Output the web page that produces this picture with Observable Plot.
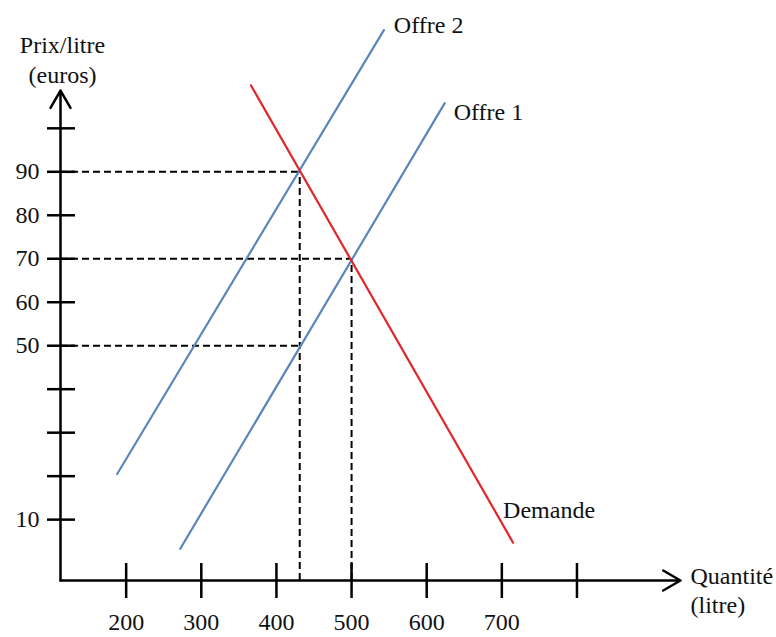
<!DOCTYPE html>
<html>
<head>
<meta charset="utf-8">
<script src="https://cdn.jsdelivr.net/npm/d3@7"></script>
<script src="https://cdn.jsdelivr.net/npm/@observablehq/plot@0.6"></script>
<style>
  html, body { margin: 0; padding: 0; background: white; }
  svg text { font-family: "Liberation Serif", "Times New Roman", Times, "DejaVu Serif", serif !important; }
</style>
</head>
<body>
<div id="chart"></div>
<script>
// ---- data (quantity in litres, price in euros/litre) ----
const quantityDomain = [112.6, 937.8];
const priceDomain = [-4, 108.7];

const quantityTicks = [200, 300, 400, 500, 600, 700, 800];
const quantityLabels = [200, 300, 400, 500, 600, 700];
const priceTicks = [10, 20, 30, 40, 50, 60, 70, 80, 90, 100];
const priceLabels = [10, 50, 60, 70, 80, 90];

const offre1 = [{q: 272, p: 3.3}, {q: 624, p: 105.8}];
const offre2 = [{q: 188, p: 20.5}, {q: 543, p: 122.6}];
const demande = [{q: 366, p: 109.9}, {q: 715, p: 4.7}];

const equilibria = [{q: 431, p: 90}, {q: 500, p: 70}, {q: 431, p: 50}];

// ---- derived ----
const [qMin, qMax] = quantityDomain;
const [vMin, vMax] = priceDomain;
const verticals = Array.from(d3.rollup(equilibria, v => d3.max(v, d => d.p), d => d.q), ([q, p]) => ({q, p}));
const axes = [
  {x1: qMin, y1: vMin, x2: qMin, y2: vMax},
  {x1: qMin, y1: vMin, x2: qMax, y2: vMin}
];

const blue = "#5b86bd";
const red = "#e2262b";
const font = "'Liberation Serif', 'Times New Roman', serif";
const fs = 24;

const chart = Plot.plot({
  width: 776,
  height: 637,
  margin: 0,
  style: {fontFamily: font, fontSize: "24px", background: "white", color: "#111"},
  x: {domain: quantityDomain, range: [60, 680], axis: null},
  y: {domain: priceDomain, range: [580, 90], axis: null},
  marks: [
    // dashed guides
    Plot.ruleY(equilibria, {y: "p", x1: qMin, x2: "q", stroke: "black", strokeWidth: 2, strokeDasharray: "7,4"}),
    Plot.ruleX(verticals, {x: "q", y1: vMin, y2: "p", stroke: "black", strokeWidth: 2, strokeDasharray: "7,4"}),
    // supply and demand lines
    Plot.line(offre1, {x: "q", y: "p", stroke: blue, strokeWidth: 2.2}),
    Plot.line(offre2, {x: "q", y: "p", stroke: blue, strokeWidth: 2.2}),
    Plot.line(demande, {x: "q", y: "p", stroke: red, strokeWidth: 2.2}),
    // axes with arrows
    Plot.arrow(axes, {x1: "x1", y1: "y1", x2: "x2", y2: "y2", stroke: "black", strokeWidth: 2.5, headLength: 12, headAngle: 60}),
    // tick marks crossing the axes
    Plot.ruleY(priceTicks, {y: d => d, x1: qMin, x2: qMin, insetLeft: -13, insetRight: -15, stroke: "black", strokeWidth: 2.5}),
    Plot.ruleX(quantityTicks, {x: d => d, y1: vMin, y2: vMin, insetTop: -17, insetBottom: -18, stroke: "black", strokeWidth: 2.5}),
    // tick labels
    Plot.text(priceLabels, {x: qMin, y: d => d, text: d => String(d), textAnchor: "end", dx: -21, fontSize: fs, fill: "#111"}),
    Plot.text(quantityLabels, {x: d => d, y: vMin, text: d => String(d), dy: 42, fontSize: fs, fill: "#111"}),
    // axis titles
    Plot.text([{q: qMin, p: vMax}], {x: "q", y: "p", text: () => "Prix/litre\n(euros)", lineAnchor: "bottom", lineHeight: 1.25, dx: 2, dy: -8, fontSize: fs, fill: "#111"}),
    Plot.text([{q: qMax, p: vMin}], {x: "q", y: "p", text: () => "Quantité\n(litre)", textAnchor: "start", lineAnchor: "top", lineHeight: 1.17, dx: 10, dy: -16, fontSize: fs, fill: "#111"}),
    // curve labels
    Plot.text([offre2[1]], {x: "q", y: "p", text: () => "Offre 2", textAnchor: "start", dx: 10, dy: -5, fontSize: fs, fill: "#111"}),
    Plot.text([offre1[1]], {x: "q", y: "p", text: () => "Offre 1", textAnchor: "start", dx: 9, dy: 9, fontSize: fs, fill: "#111"}),
    Plot.text([demande[1]], {x: "q", y: "p", text: () => "Demande", textAnchor: "start", dx: -10, dy: -32, fontSize: fs, fill: "#111"})
  ]
});
document.getElementById("chart").append(chart);
</script>
</body>
</html>
